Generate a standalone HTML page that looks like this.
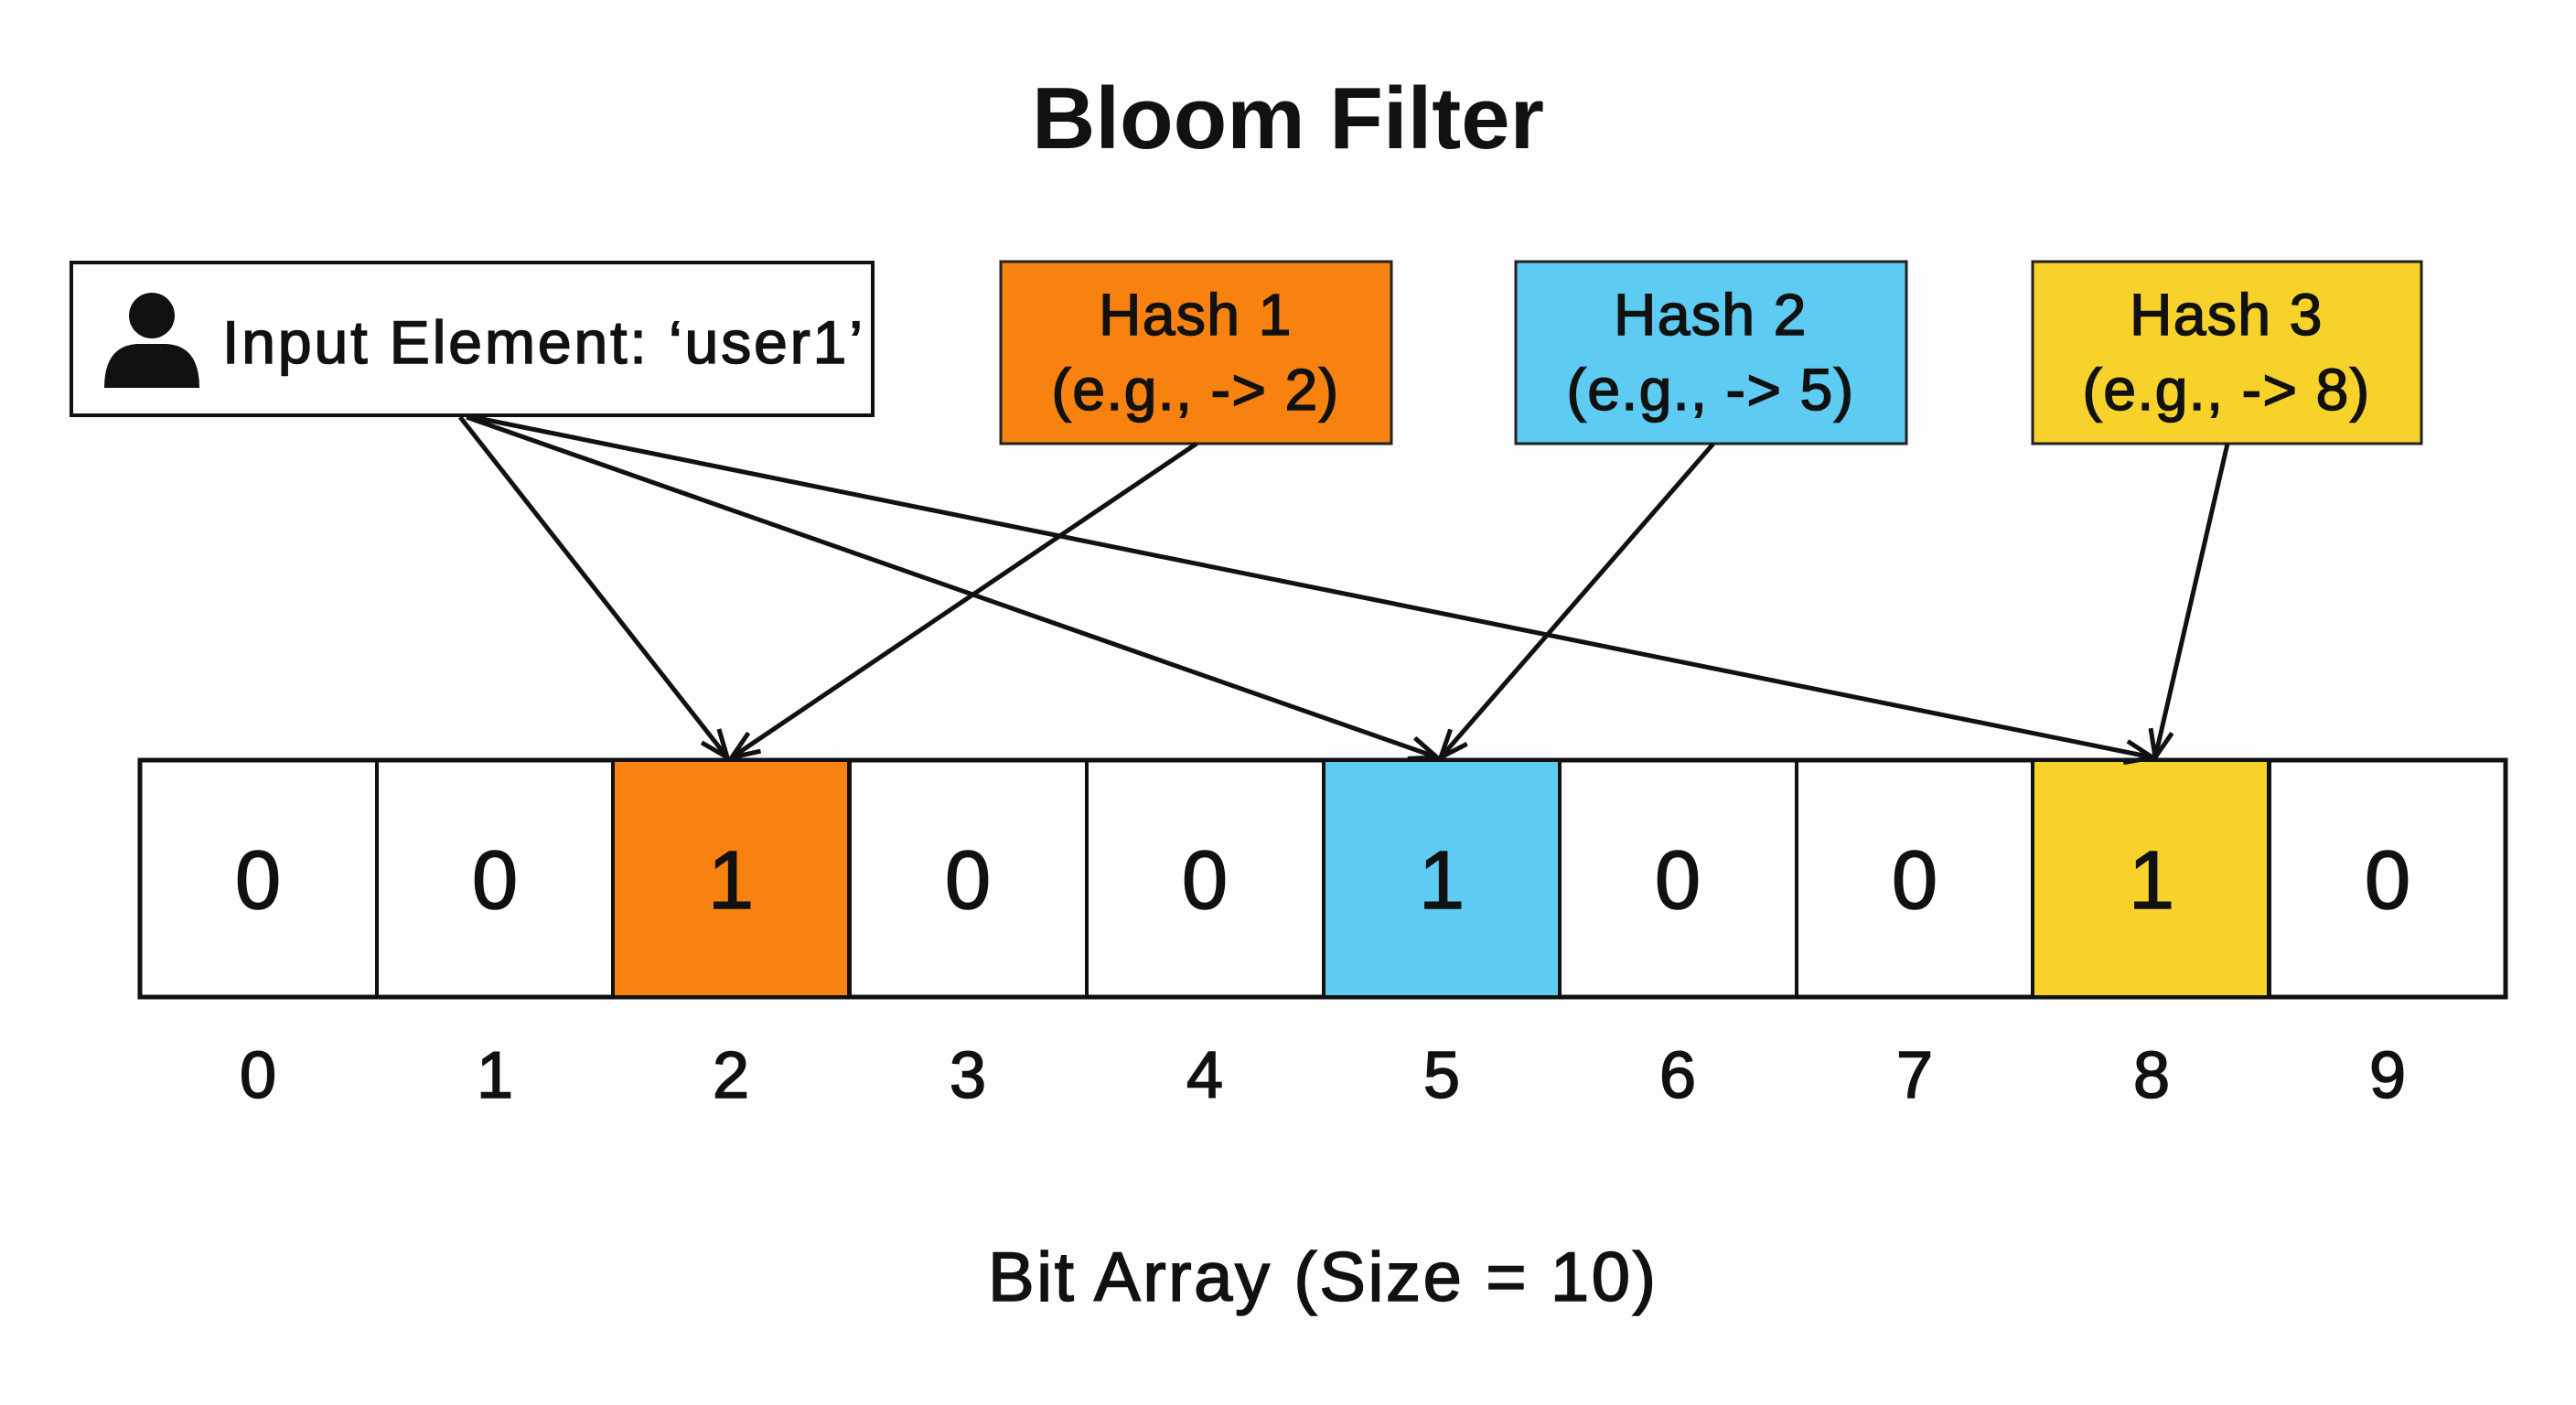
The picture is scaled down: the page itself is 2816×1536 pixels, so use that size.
<!DOCTYPE html>
<html><head><meta charset="utf-8"><style>
body{margin:0;background:#fdfdfd;}
svg{display:block}
text{font-family:"Liberation Sans",sans-serif;fill:#111;stroke:#111;stroke-width:1.6px}
</style></head><body>
<svg width="2816" height="1536" viewBox="0 0 2816 1536" xmlns="http://www.w3.org/2000/svg">
<defs>
<marker id="h" markerWidth="34" markerHeight="28" refX="32" refY="14" orient="auto" markerUnits="userSpaceOnUse"><path d="M2,2 L32,14 L2,26" fill="none" stroke="#111" stroke-width="5"/></marker></defs>
<text x="1408" y="162" font-size="96" font-weight="bold" text-anchor="middle" style="stroke-width:0">Bloom Filter</text>
<rect x="78" y="287" width="876" height="167" fill="#fff" stroke="#111" stroke-width="4"/>
<circle cx="166" cy="345" r="25" fill="#111"/>
<path d="M114,424 Q114,378 150,376 L182,376 Q218,378 218,424 Z" fill="#111"/>
<text x="243" y="397" font-size="66" textLength="700" lengthAdjust="spacing">Input Element: ‘user1’</text>
<rect x="1094" y="286" width="427" height="199" fill="#F7820F" stroke="#222" stroke-width="3"/>
<rect x="1657" y="286" width="427" height="199" fill="#5ECBF2" stroke="#222" stroke-width="3"/>
<rect x="2222" y="286" width="425" height="199" fill="#F6D22B" stroke="#222" stroke-width="3"/>
<g font-size="64" text-anchor="middle" letter-spacing="1.5">
<text x="1307" y="366">Hash 1</text><text x="1307" y="448">(e.g., -&gt; 2)</text>
<text x="1870" y="366">Hash 2</text><text x="1870" y="448">(e.g., -&gt; 5)</text>
<text x="2434" y="366">Hash 3</text><text x="2434" y="448">(e.g., -&gt; 8)</text>
</g>
<g stroke="#111" stroke-width="4">
<rect x="153" y="831" width="2586" height="259" fill="#fff" stroke-width="5"/>
<rect x="670" y="831" width="258" height="259" fill="#F7820F"/>
<rect x="1447" y="831" width="258" height="259" fill="#5ECBF2"/>
<rect x="2222" y="831" width="258" height="259" fill="#F6D22B"/>
<line x1="412" y1="831" x2="412" y2="1090"/><line x1="670" y1="831" x2="670" y2="1090"/>
<line x1="929" y1="831" x2="929" y2="1090"/><line x1="1188" y1="831" x2="1188" y2="1090"/>
<line x1="1447" y1="831" x2="1447" y2="1090"/><line x1="1705" y1="831" x2="1705" y2="1090"/>
<line x1="1964" y1="831" x2="1964" y2="1090"/><line x1="2222" y1="831" x2="2222" y2="1090"/>
<line x1="2481" y1="831" x2="2481" y2="1090"/>
</g>
<g font-size="90" text-anchor="middle" style="stroke-width:3px">
<text x="282" y="993">0</text><text x="541" y="993">0</text><text x="799" y="993">1</text><text x="1058" y="993">0</text><text x="1317" y="993">0</text><text x="1576" y="993">1</text><text x="1834" y="993">0</text><text x="2093" y="993">0</text><text x="2352" y="993">1</text><text x="2610" y="993">0</text>
</g>
<g font-size="72" text-anchor="middle">
<text x="282" y="1200">0</text><text x="541" y="1200">1</text><text x="799" y="1200">2</text><text x="1058" y="1200">3</text><text x="1317" y="1200">4</text><text x="1576" y="1200">5</text><text x="1834" y="1200">6</text><text x="2093" y="1200">7</text><text x="2352" y="1200">8</text><text x="2610" y="1200">9</text>
</g>
<text x="1080" y="1422" font-size="76" textLength="730" lengthAdjust="spacing">Bit Array (Size = 10)</text>
<g stroke="#111" stroke-width="5" fill="none" marker-end="url(#h)">
<line x1="503" y1="456" x2="795" y2="828"/>
<line x1="510" y1="456" x2="1571" y2="828"/>
<line x1="517" y1="456" x2="2353" y2="828"/>
<line x1="1308" y1="485" x2="800" y2="828"/>
<line x1="1873" y1="485" x2="1575" y2="828"/>
<line x1="2435" y1="485" x2="2356" y2="828"/>
</g>
</svg>
</body></html>
